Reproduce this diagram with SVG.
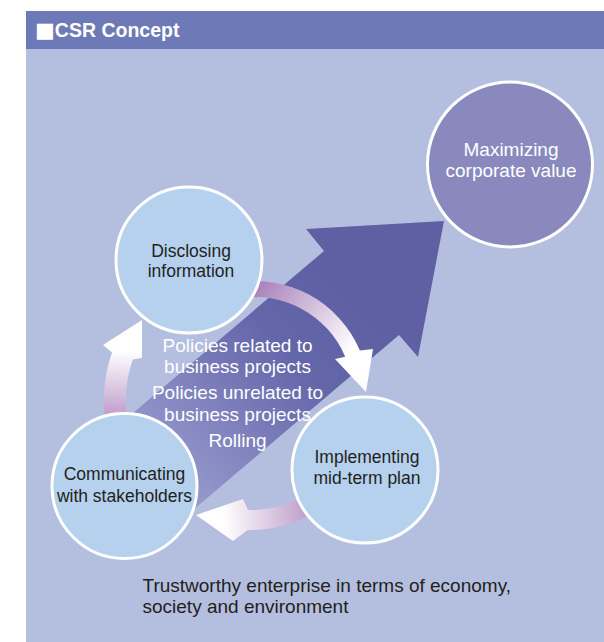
<svg xmlns="http://www.w3.org/2000/svg" width="604" height="642" viewBox="0 0 604 642">
  <style>
    .panel { fill: #b4bedf; }
    .header { fill: #6e7ab8; }
    .title { font-family: "Liberation Sans", Arial, sans-serif; font-weight: bold; font-size: 19.5px; fill: #ffffff; }
    .node-light { fill: #b5d1ee; stroke: #ffffff; stroke-width: 3; }
    .node-dark { fill: #8989bd; stroke: #ffffff; stroke-width: 3; }
    .label { font-family: "Liberation Sans", Arial, sans-serif; font-size: 17.5px; fill: #231f20; text-anchor: middle; }
    .label-white { font-family: "Liberation Sans", Arial, sans-serif; font-size: 19px; fill: #ffffff; text-anchor: middle; }
    .caption { font-family: "Liberation Sans", Arial, sans-serif; font-size: 19px; fill: #231f20; }
  </style>
  <defs>
    <linearGradient id="shaftGrad" gradientUnits="userSpaceOnUse" x1="340" y1="290" x2="150" y2="480">
      <stop offset="0" stop-color="#5e60a3"/>
      <stop offset="0.3" stop-color="#6466aa"/>
      <stop offset="1" stop-color="#9a9ecf"/>
    </linearGradient>
    <linearGradient id="cycle1" gradientUnits="userSpaceOnUse" x1="250" y1="288" x2="362" y2="372">
      <stop offset="0" stop-color="#a57cb7"/>
      <stop offset="0.85" stop-color="#ffffff"/>
    </linearGradient>
    <linearGradient id="cycle2" gradientUnits="userSpaceOnUse" x1="322" y1="505" x2="205" y2="518">
      <stop offset="0" stop-color="#b48dc1"/>
      <stop offset="0.85" stop-color="#ffffff"/>
    </linearGradient>
    <linearGradient id="cycle3" gradientUnits="userSpaceOnUse" x1="118" y1="425" x2="124" y2="338">
      <stop offset="0" stop-color="#b88fc4"/>
      <stop offset="0.85" stop-color="#ffffff"/>
    </linearGradient>
  </defs>

  <!-- background panel and title bar -->
  <rect x="0" y="0" width="604" height="642" fill="#ffffff"/>
  <rect class="panel" x="26" y="11" width="578" height="631"/>
  <rect class="header" x="26" y="11" width="578" height="38"/>
  <text class="title" x="35" y="36.5"><tspan font-family="DejaVu Sans, sans-serif" font-size="21px">■</tspan>CSR Concept</text>

  <!-- connectors: growth arrow and the three cycle arrows -->
  <g id="connectors">
    <polygon id="growth-arrow" fill="url(#shaftGrad)" points="444,221 306,229 324,251 110,432.5 170,529.5 399,335 418,357"/>
    <path id="cycle-disclose-implement" fill="url(#cycle1)" d="M 235.2,282.7 A 114 114 0 0 1 359.9,350.5 L 373,349 L 366,392 L 335,359 L 345.2,356.7 A 98 98 0 0 0 238,298.5 Z"/>
    <path id="cycle-implement-communicate" fill="url(#cycle2)" d="M 333.6,499.6 A 130 130 0 0 1 247.7,530 L 233,541 L 196,515 L 243,499 L 248.1,510 A 110 110 0 0 0 320.7,484.3 Z"/>
    <path id="cycle-communicate-disclose" fill="url(#cycle3)" d="M 109,437.8 A 146 146 0 0 1 112,352.5 L 103,345 L 142,320 L 142,358 L 132.8,359.6 A 124 124 0 0 0 130.2,432.1 Z"/>
  </g>

  <!-- labels carried on the growth arrow -->
  <g id="arrow-labels">
    <text class="label-white" x="237.5" y="352">Policies related to</text>
    <text class="label-white" x="237.5" y="373">business projects</text>
    <text class="label-white" x="237.5" y="399">Policies unrelated to</text>
    <text class="label-white" x="237.5" y="421">business projects</text>
    <text class="label-white" x="237.5" y="447">Rolling</text>
  </g>

  <g id="node-maximizing">
    <circle class="node-dark" cx="510" cy="164.5" r="82.5"/>
    <text class="label-white" x="511" y="156">Maximizing</text>
    <text class="label-white" x="511" y="177">corporate value</text>
  </g>

  <g id="node-disclosing">
    <circle class="node-light" cx="189" cy="260" r="73"/>
    <text class="label" x="191" y="257">Disclosing</text>
    <text class="label" x="191" y="277">information</text>
  </g>

  <g id="node-implementing">
    <circle class="node-light" cx="365" cy="470" r="73"/>
    <text class="label" x="367" y="463">Implementing</text>
    <text class="label" x="367" y="484">mid-term plan</text>
  </g>

  <g id="node-communicating">
    <circle class="node-light" cx="124.5" cy="486" r="72.5"/>
    <text class="label" x="124.5" y="480">Communicating</text>
    <text class="label" x="124.5" y="501.5">with stakeholders</text>
  </g>

  <g id="caption">
    <text class="caption" x="142.5" y="592">Trustworthy enterprise in terms of economy,</text>
    <text class="caption" x="142.5" y="613">society and environment</text>
  </g>
</svg>
